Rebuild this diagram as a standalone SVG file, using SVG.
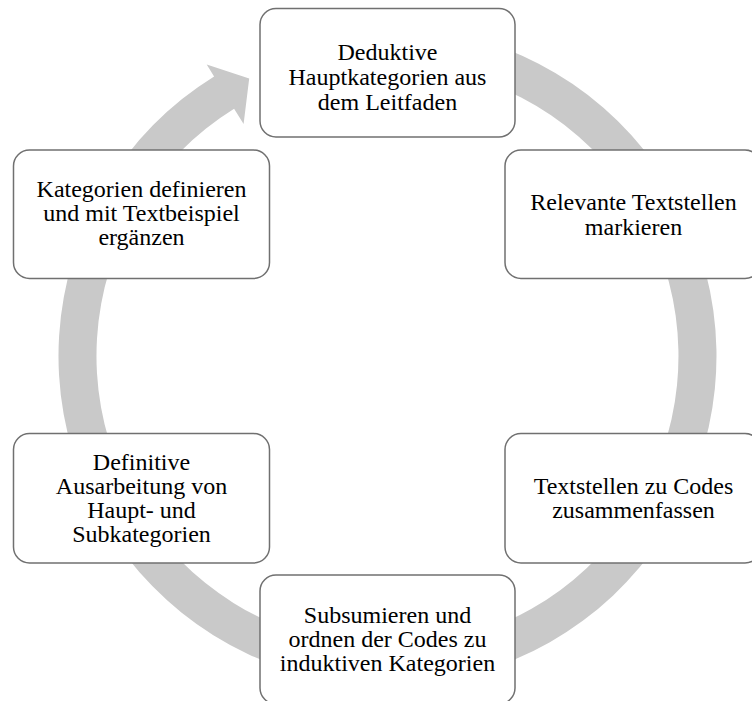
<svg xmlns="http://www.w3.org/2000/svg" width="752" height="701" viewBox="0 0 752 701">
  <style>
    .box { fill: #ffffff; stroke: #707070; stroke-width: 1.5; }
    .lbl { font-family: "Liberation Serif", "Times New Roman", serif; font-size: 24px; fill: #000000; text-anchor: middle; }
    .ring { fill: #c9c9c9; stroke: none; }
  </style>
  <rect width="752" height="701" fill="#ffffff"/>
  <g id="connectors">
    <path class="ring" d="M 387.5 27 A 329 329 0 1 1 214.1 76.4 L 206.7 64.5 L 249.2 78.6 L 243.6 124 L 234.1 108.7 A 291 291 0 1 0 387.5 65 Z"/>
  </g>
  <g id="node-deduktive">
    <rect class="box" x="260" y="8.5" width="255" height="128.5" rx="16" ry="16"/>
    <text class="lbl" x="387.5" y="59.5">Deduktive</text>
    <text class="lbl" x="387.5" y="84.5">Hauptkategorien aus</text>
    <text class="lbl" x="387.5" y="109.5">dem Leitfaden</text>
  </g>
  <g id="node-relevante">
    <rect class="box" x="505" y="150" width="256" height="128.5" rx="16" ry="16"/>
    <text class="lbl" x="633.5" y="210">Relevante Textstellen</text>
    <text class="lbl" x="633.5" y="235">markieren</text>
  </g>
  <g id="node-textstellen">
    <rect class="box" x="505" y="433.5" width="256" height="129.5" rx="16" ry="16"/>
    <text class="lbl" x="633.5" y="494">Textstellen zu Codes</text>
    <text class="lbl" x="633.5" y="518">zusammenfassen</text>
  </g>
  <g id="node-subsumieren">
    <rect class="box" x="260" y="575" width="255" height="129" rx="16" ry="16"/>
    <text class="lbl" x="387.5" y="623">Subsumieren und</text>
    <text class="lbl" x="387.5" y="647">ordnen der Codes zu</text>
    <text class="lbl" x="387.5" y="671">induktiven Kategorien</text>
  </g>
  <g id="node-definitive">
    <rect class="box" x="13.5" y="433.5" width="256" height="129.5" rx="16" ry="16"/>
    <text class="lbl" x="141.5" y="470">Definitive</text>
    <text class="lbl" x="141.5" y="494">Ausarbeitung von</text>
    <text class="lbl" x="141.5" y="518">Haupt- und</text>
    <text class="lbl" x="141.5" y="542">Subkategorien</text>
  </g>
  <g id="node-kategorien">
    <rect class="box" x="13.5" y="150" width="256" height="128.5" rx="16" ry="16"/>
    <text class="lbl" x="141.5" y="197">Kategorien definieren</text>
    <text class="lbl" x="141.5" y="221">und mit Textbeispiel</text>
    <text class="lbl" x="141.5" y="245">ergänzen</text>
  </g>
</svg>
